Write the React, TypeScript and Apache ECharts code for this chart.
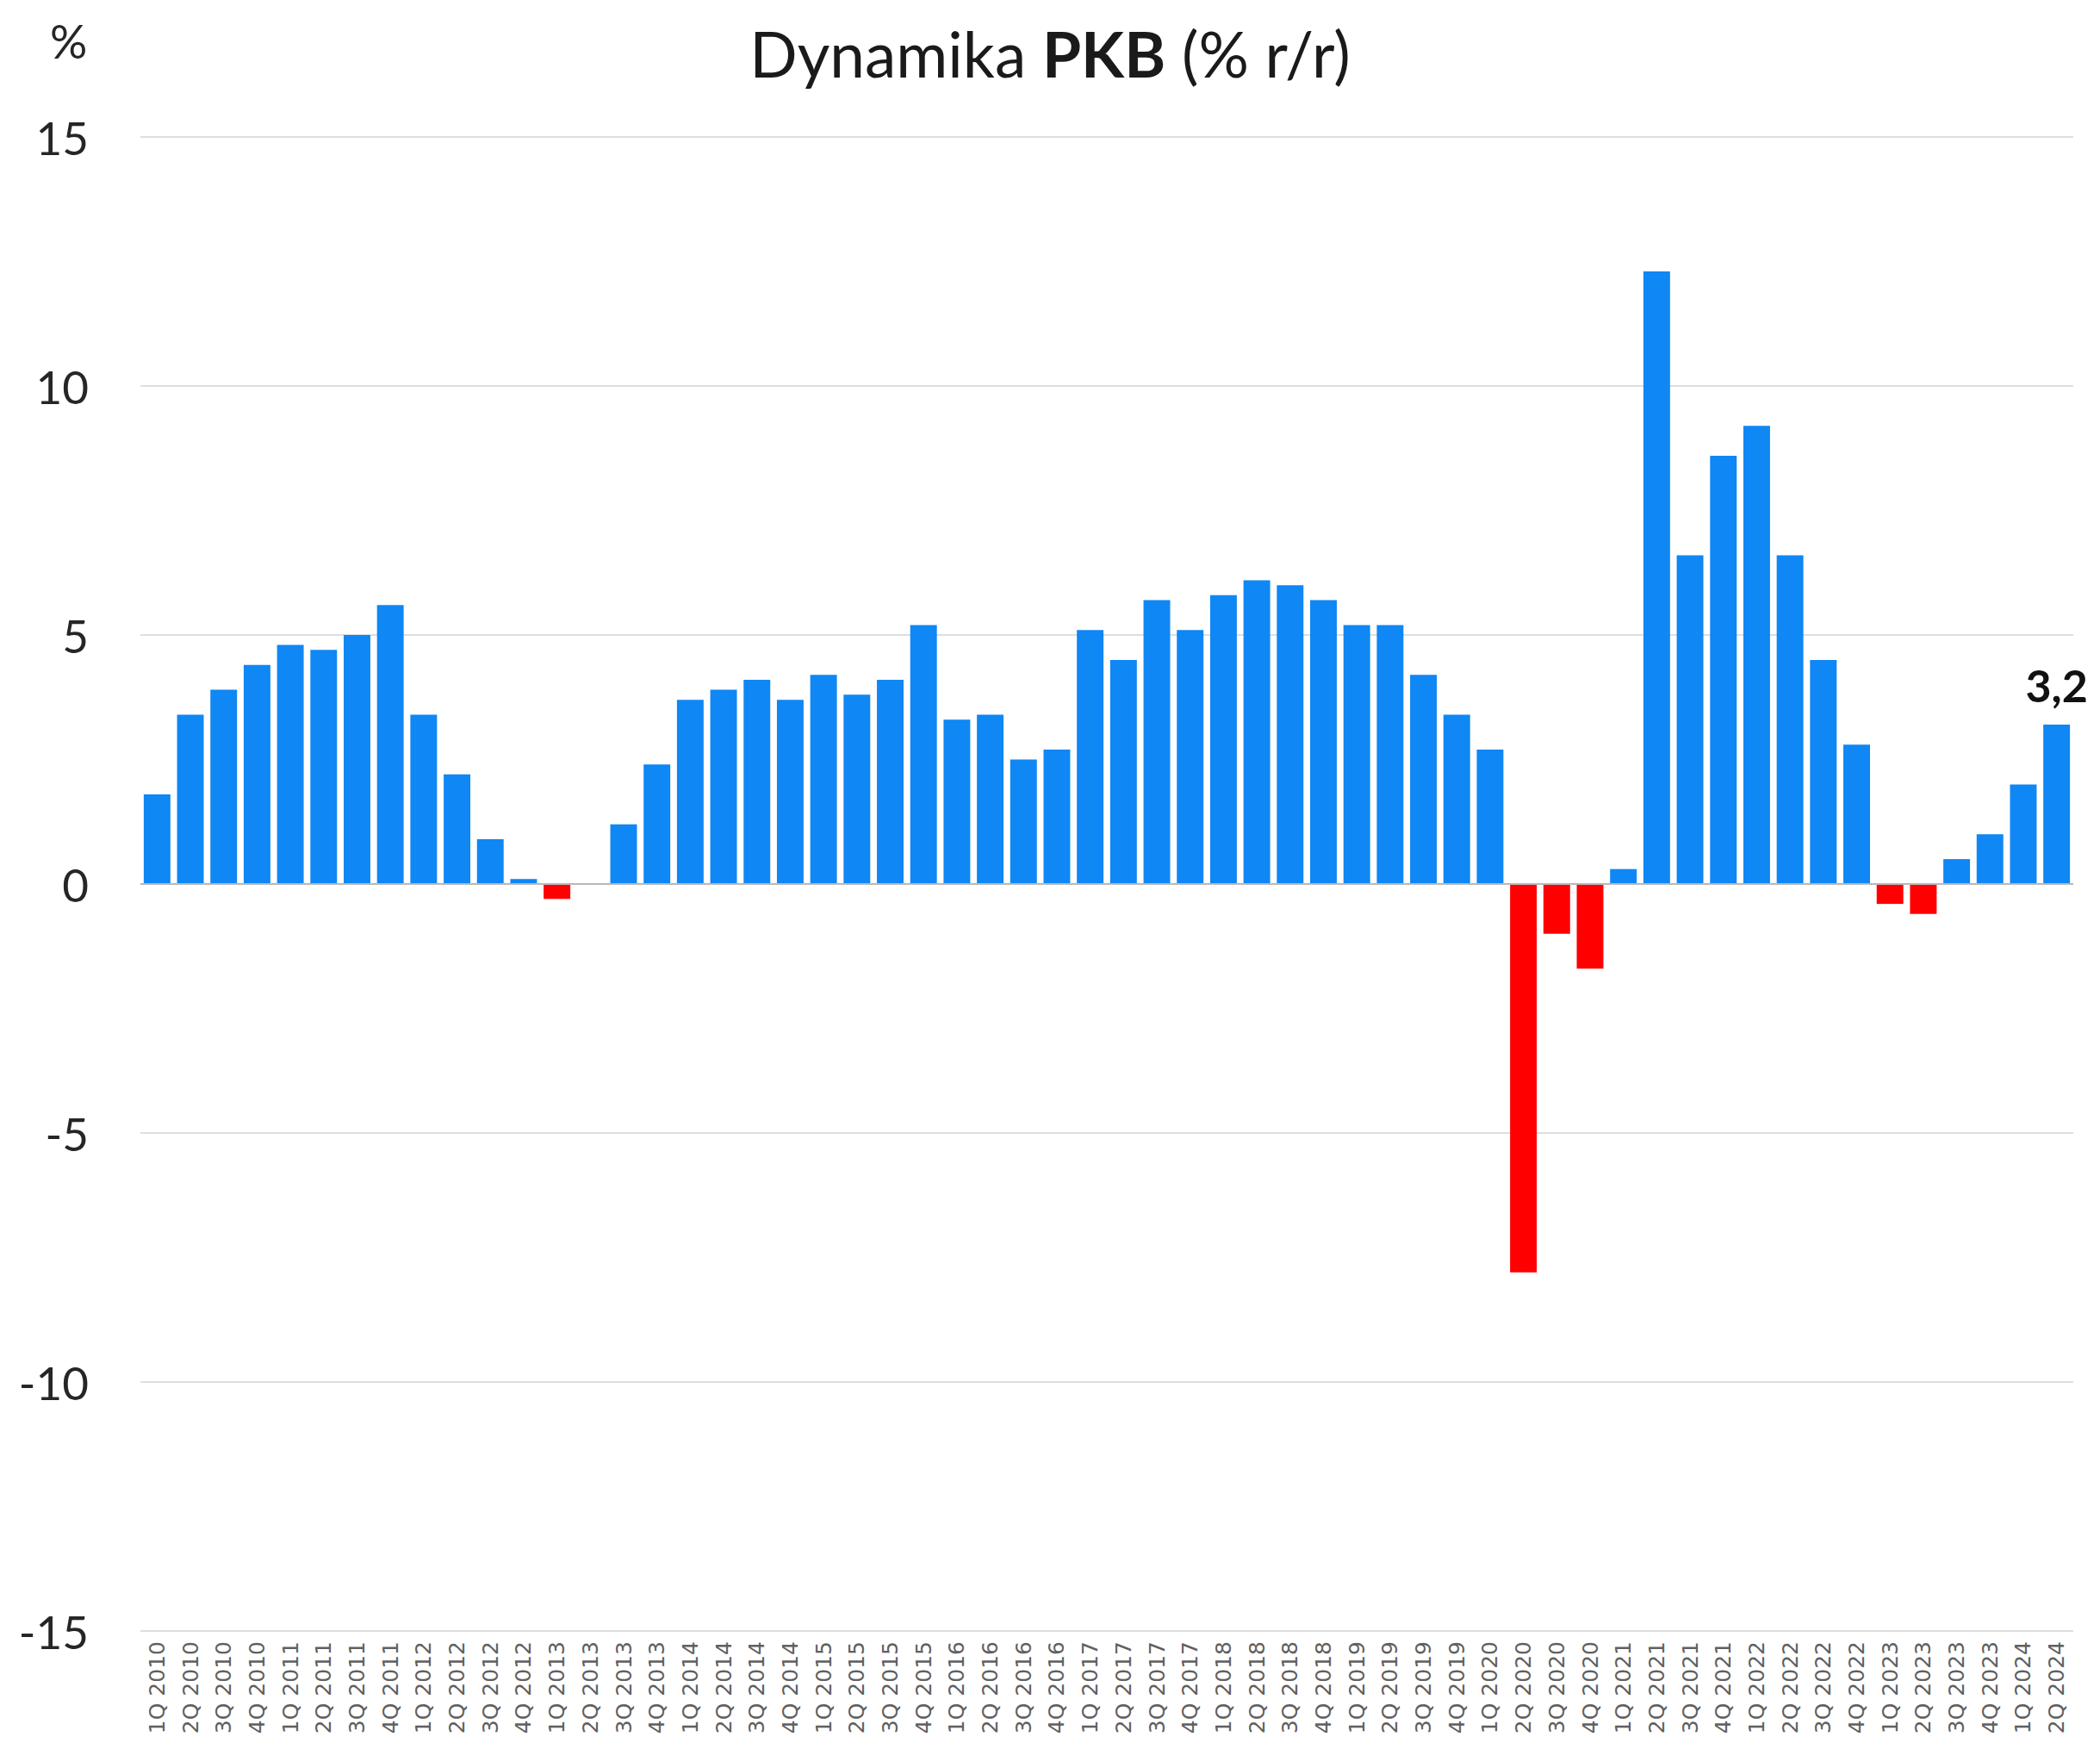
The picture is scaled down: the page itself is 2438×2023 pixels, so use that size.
import React, { useEffect, useRef } from "react";
import * as echarts from "echarts";

const years = [2010, 2011, 2012, 2013, 2014, 2015, 2016, 2017, 2018, 2019, 2020, 2021, 2022, 2023, 2024];
const quarters = ["1Q", "2Q", "3Q", "4Q"];
const categories: string[] = [];
years.forEach((y) => quarters.forEach((q) => categories.push(`${q} ${y}`)));
const quarterLabels = categories.slice(0, 58);

const gdpValues = [
  1.8, 3.4, 3.9, 4.4,
  4.8, 4.7, 5.0, 5.6,
  3.4, 2.2, 0.9, 0.1,
  -0.3, 0.0, 1.2, 2.4,
  3.7, 3.9, 4.1, 3.7,
  4.2, 3.8, 4.1, 5.2,
  3.3, 3.4, 2.5, 2.7,
  5.1, 4.5, 5.7, 5.1,
  5.8, 6.1, 6.0, 5.7,
  5.2, 5.2, 4.2, 3.4,
  2.7, -7.8, -1.0, -1.7,
  0.3, 12.3, 6.6, 8.6,
  9.2, 6.6, 4.5, 2.8,
  -0.4, -0.6, 0.5, 1.0,
  2.0, 3.2,
];

const yTicks = { min: -15, max: 15, interval: 5 };
const labelledIndex = gdpValues.length - 1;

const BLUE = "#0f87f5";
const RED = "#ff0000";

export default function App() {
  const ref = useRef<HTMLDivElement>(null);
  useEffect(() => {
    if (!ref.current) return;
    const chart = echarts.init(ref.current, undefined, { renderer: "svg" });
    const data = gdpValues.map((v, i) =>
      i === labelledIndex
        ? {
            value: v,
            label: {
              show: true,
              position: "top",
              distance: 20,
              formatter: (p: any) => String(p.value).replace(".", ","),
              fontFamily: "Lato",
              fontWeight: "bold",
              fontSize: 52,
              color: "#111111",
            },
          }
        : v
    );
    chart.setOption({
      animation: false,
      backgroundColor: "#ffffff",
      title: {
        text: "{n|Dynamika }{b|PKB}{n| (% r/r)}",
        left: "center",
        top: 20,
        textStyle: {
          rich: {
            n: { fontFamily: "Lato", fontSize: 73, fontWeight: "normal", color: "#1a1a1a" },
            b: { fontFamily: "Lato", fontSize: 73, fontWeight: "bold", color: "#1a1a1a" },
          },
        },
      },
      graphic: [
        {
          type: "text",
          left: 58,
          top: 20,
          style: { text: "%", fontFamily: "Lato", fontSize: 54, fill: "#262626" },
        },
      ],
      grid: { left: 163, right: 31, top: 159, bottom: 130, containLabel: false },
      xAxis: {
        type: "category",
        data: quarterLabels,
        axisLine: { show: false },
        axisTick: { show: false },
        axisLabel: {
          interval: 0,
          rotate: 90,
          margin: 12,
          fontFamily: "DejaVu Sans",
          fontSize: 25,
          color: "#606060",
        },
      },
      yAxis: {
        type: "value",
        min: yTicks.min,
        max: yTicks.max,
        interval: yTicks.interval,
        axisLine: { show: false },
        axisTick: { show: false },
        axisLabel: {
          margin: 60,
          fontFamily: "Lato",
          fontSize: 53,
          color: "#262626",
        },
        splitLine: { lineStyle: { color: "#dedede", width: 2 } },
      },
      series: [
        {
          type: "bar",
          data,
          barCategoryGap: "20%",
          itemStyle: {
            color: (p: any) => (p.value < 0 ? RED : BLUE),
          },
          markLine: {
            silent: true,
            symbol: "none",
            label: { show: false },
            lineStyle: { color: "#b8b8b8", width: 2, type: "solid" },
            data: [{ yAxis: 0 }],
          },
        },
      ],
    });
    return () => chart.dispose();
  }, []);
  return (
    <div
      ref={ref}
      style={{ position: "absolute", left: 0, top: 0, width: 2438, height: 2023 }}
    />
  );
}
